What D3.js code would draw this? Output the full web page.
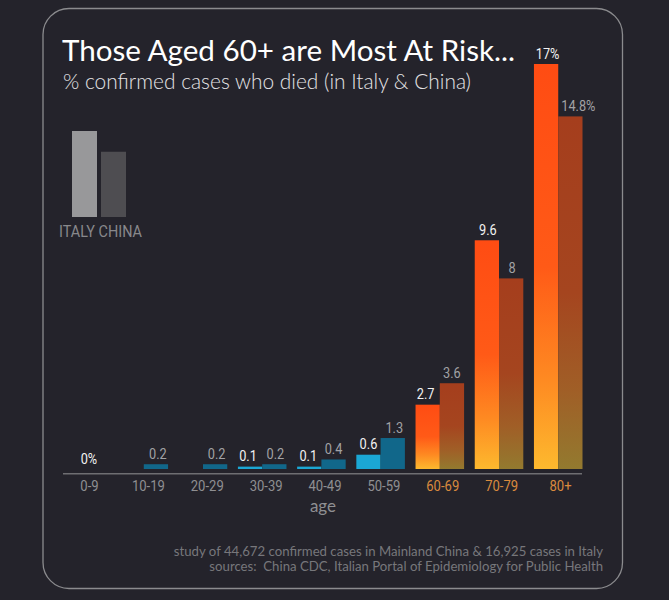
<!DOCTYPE html>
<html>
<head>
<meta charset="utf-8">
<style>
  html, body { margin: 0; padding: 0; background: #24232b; }
  svg { display: block; }
  text { font-family: Lato, sans-serif; }
  text.num, .tick text, text.legend-label { font-family: Roboto, sans-serif; }
</style>
<script src="https://cdn.jsdelivr.net/npm/d3@7"></script>
</head>
<body>
<div id="chart"></div>
<script>
// dx values nudge the labels to where the original has them
const data = [
    { age: '0-9', italy: 0, china: null, italyLabel: '0%', chinaLabel: '', italyDx: 16.5, chinaDx: 0 },
    { age: '10-19', italy: null, china: 0.2, italyLabel: '', chinaLabel: '0.2', italyDx: 0, chinaDx: 2 },
    { age: '20-29', italy: null, china: 0.2, italyLabel: '', chinaLabel: '0.2', italyDx: 0, chinaDx: 1.5 },
    { age: '30-39', italy: 0.1, china: 0.2, italyLabel: '0.1', chinaLabel: '0.2', italyDx: -2, chinaDx: 1 },
    { age: '40-49', italy: 0.1, china: 0.4, italyLabel: '0.1', chinaLabel: '0.4', italyDx: -1, chinaDx: 0 },
    { age: '50-59', italy: 0.6, china: 1.3, italyLabel: '0.6', chinaLabel: '1.3', italyDx: 0, chinaDx: 1.5 },
    { age: '60-69', italy: 2.7, china: 3.6, italyLabel: '2.7', chinaLabel: '3.6', italyDx: -2, chinaDx: 0 },
    { age: '70-79', italy: 9.6, china: 8, italyLabel: '9.6', chinaLabel: '8', italyDx: 1, chinaDx: 1 },
    { age: '80+', italy: 17, china: 14.8, italyLabel: '17%', chinaLabel: '14.8%', italyDx: 1.5, chinaDx: 8 },
];
const series = ['italy', 'china'];
const width = 669;
const height = 600;
const baseline = 469;

const svg = d3.select('#chart').append('svg')
    .attr('width', width)
    .attr('height', height);

// No condensed font is available, so squeeze the glyphs instead
const condense = (factor) => function () {
    this.setAttribute('textLength', this.getComputedTextLength() * factor);
    this.setAttribute('lengthAdjust', 'spacingAndGlyphs');
};

// Gradients: one per colour family, stretched over each bar
const defs = svg.append('defs');
const addGradient = (id, stops) => {
    const g = defs.append('linearGradient').attr('id', id)
        .attr('x1', 0).attr('y1', 0).attr('x2', 0).attr('y2', 1);
    stops.forEach(s => g.append('stop').attr('offset', s[0]).attr('stop-color', s[1]));
};
addGradient('hot-italy', [[0, '#ff4c13'], [0.5, '#ff5a17'], [0.78, '#fe8a22'], [1, '#fdb92e']]);
addGradient('hot-china', [[0, '#a53e1d'], [0.5, '#a5451f'], [0.78, '#a05f27'], [1, '#937a2f']]);

svg.append('rect')
    .attr('x', 43).attr('y', 8.5)
    .attr('width', 579.5).attr('height', 580)
    .attr('rx', 26).attr('ry', 26)
    .attr('fill', 'none')
    .attr('stroke', '#8b8b8e')
    .attr('stroke-width', 1.3);

svg.append('text')
    .attr('x', 62).attr('y', 61)
    .attr('fill', '#ffffff')
    .attr('font-size', '29.6px')
    .attr('font-weight', '400')
    .text('Those Aged 60+ are Most At Risk...');

svg.append('text')
    .attr('x', 63).attr('y', 89)
    .attr('fill', '#e4e4e6')
    .attr('font-size', '20.9px')
    .attr('font-weight', '300')
    .text('% confirmed cases who died (in Italy & China)');

const x0 = d3.scaleBand()
    .domain(data.map(d => d.age))
    .range([60.3, 582.5])
    .paddingInner(0.18);
const x1 = d3.scaleBand()
    .domain(series)
    .range([0, x0.bandwidth()]);
const y = d3.scaleLinear()
    .domain([0, 17])
    .range([baseline, 64]);
// The age labels do not sit quite under the bar groups
const xLabel = d3.scalePoint()
    .domain(data.map(d => d.age))
    .range([89, 560]);

const isHot = d => parseInt(d.age) >= 60;
const fillFor = (d, s) => {
    if (isHot(d)) return 'url(#hot-' + s + ')';
    return s === 'italy' ? '#1ba7d4' : '#11678a';
};

const groups = svg.selectAll('g.group')
    .data(data)
    .enter()
    .append('g')
    .attr('class', 'group')
    .attr('transform', d => 'translate(' + x0(d.age) + ',0)');

groups.selectAll('rect')
    .data(d => series.filter(s => d[s] !== null && d[s] > 0).map(s => ({ s, d })))
    .enter()
    .append('rect')
    .attr('x', e => x1(e.s))
    .attr('y', e => y(e.d[e.s]))
    .attr('width', x1.bandwidth())
    .attr('height', e => baseline - y(e.d[e.s]))
    .attr('fill', e => fillFor(e.d, e.s));

// Value labels. Italy on the left in white, China on the right in grey
groups.append('text')
    .attr('class', 'num')
    .attr('x', d => x1('italy') + x1.bandwidth() / 2 + d.italyDx)
    .attr('y', d => y(d.italy || 0) - 5.5)
    .attr('text-anchor', 'middle')
    .attr('fill', '#f2f2f2')
    .attr('font-size', '15px')
    .text(d => d.italyLabel)
    .each(condense(0.85));

groups.append('text')
    .attr('class', 'num')
    .attr('x', d => x1('china') + x1.bandwidth() / 2 + d.chinaDx)
    .attr('y', d => y(d.china || 0) - 5)
    .attr('text-anchor', 'middle')
    .attr('fill', '#a2a2a5')
    .attr('font-size', '15px')
    .text(d => d.chinaLabel)
    .each(condense(0.85));

const axis = svg.append('g')
    .attr('transform', 'translate(0,473.7)')
    .call(d3.axisBottom(xLabel).tickSize(0).tickPadding(7));
axis.select('.domain').remove();
axis.selectAll('.tick text')
    .attr('font-size', '14.5px')
    .attr('fill', t => parseInt(t) >= 60 ? '#d98a3e' : '#8f8f92')
    .each(condense(0.9));

svg.append('line')
    .attr('x1', 63).attr('x2', 582)
    .attr('y1', 473.7).attr('y2', 473.7)
    .attr('stroke', '#6e6e72')
    .attr('stroke-width', 1.5);

svg.append('text')
    .attr('x', 323).attr('y', 511.5)
    .attr('text-anchor', 'middle')
    .attr('fill', '#8f8f92')
    .attr('font-size', '17px')
    .text('age');

// Legend
const legend = [
    { name: 'ITALY', value: 17, color: '#98989a', x: 72 },
    { name: 'CHINA', value: 12.9, color: '#4e4d51', x: 101 },
];
const yLegend = d3.scaleLinear().domain([0, 17]).range([217, 131]);
svg.selectAll('rect.legend')
    .data(legend)
    .enter()
    .append('rect')
    .attr('class', 'legend')
    .attr('x', d => d.x)
    .attr('y', d => yLegend(d.value))
    .attr('width', 25)
    .attr('height', d => 217 - yLegend(d.value))
    .attr('fill', d => d.color);
svg.append('text')
    .attr('class', 'legend-label')
    .attr('x', 59).attr('y', 237)
    .attr('fill', '#88888b')
    .attr('font-size', '16px')
    .text('ITALY CHINA')
    .each(function () {
        this.setAttribute('textLength', 83);
        this.setAttribute('lengthAdjust', 'spacingAndGlyphs');
    });

const notes = [
    'study of 44,672 confirmed cases in Mainland China & 16,925 cases in Italy',
    'sources:  China CDC, Italian Portal of Epidemiology for Public Health',
];
svg.selectAll('text.note')
    .data(notes)
    .enter()
    .append('text')
    .attr('class', 'note')
    .attr('x', 603)
    .attr('y', (d, i) => 555.5 + i * 15)
    .attr('text-anchor', 'end')
    .attr('fill', '#77777b')
    .attr('font-size', '13.2px')
    .style('white-space', 'pre')
    .text(d => d);
</script>
</body>
</html>
